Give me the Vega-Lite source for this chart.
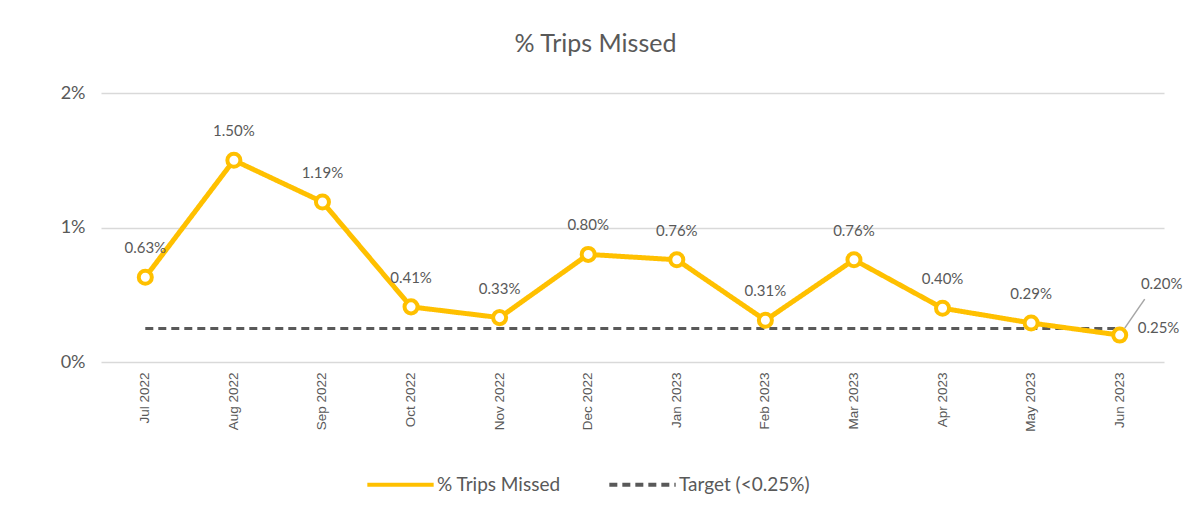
{
  "$schema": "https://vega.github.io/schema/vega-lite/v6.json",
  "width": 1063,
  "height": 269,
  "autosize": {"type": "none"},
  "padding": {"left": 101, "top": 93, "right": 26, "bottom": 156},
  "background": "white",
  "title": {"text": "% Trips Missed", "fontSize": 25, "font": "Lato", "fontWeight": "normal", "color": "#595959", "anchor": "middle", "dx": -37, "offset": 27},
  "config": {"view": {"stroke": null}},
  "data": {"values": [
    {"month": "Jul 2022", "missed": 0.0063, "target": 0.0025},
    {"month": "Aug 2022", "missed": 0.0150, "target": 0.0025},
    {"month": "Sep 2022", "missed": 0.0119, "target": 0.0025},
    {"month": "Oct 2022", "missed": 0.0041, "target": 0.0025},
    {"month": "Nov 2022", "missed": 0.0033, "target": 0.0025},
    {"month": "Dec 2022", "missed": 0.0080, "target": 0.0025},
    {"month": "Jan 2023", "missed": 0.0076, "target": 0.0025},
    {"month": "Feb 2023", "missed": 0.0031, "target": 0.0025},
    {"month": "Mar 2023", "missed": 0.0076, "target": 0.0025},
    {"month": "Apr 2023", "missed": 0.0040, "target": 0.0025},
    {"month": "May 2023", "missed": 0.0029, "target": 0.0025},
    {"month": "Jun 2023", "missed": 0.0020, "target": 0.0025}
  ]},
  "encoding": {
    "x": {"field": "month", "type": "ordinal", "sort": null, "title": null,
      "scale": {"type": "band", "paddingInner": 0, "paddingOuter": 0},
      "axis": {"labelAngle": -90, "labelFont": "Liberation Sans", "labelFontSize": 13.5, "labelColor": "#595959", "ticks": false, "domain": false, "labelPadding": 10, "grid": false}}
  },
  "layer": [
    {
      "mark": {"type": "line", "strokeWidth": 3},
      "encoding": {
        "y": {"field": "target", "type": "quantitative", "title": null,
          "scale": {"domain": [0, 0.02], "nice": false},
          "axis": {"values": [0, 0.01, 0.02], "format": ".0%", "labelFont": "Lato", "labelFontSize": 18, "labelColor": "#595959", "ticks": false, "domain": false, "labelPadding": 16, "gridColor": "#D9D9D9", "gridWidth": 1.5}},
        "color": {"datum": "Target (<0.25%)", "type": "nominal",
          "scale": {"domain": ["% Trips Missed", "Target (<0.25%)"], "range": ["#FFC000", "#595959"]},
          "legend": {"title": null, "orient": "none", "legendX": 264, "legendY": 356, "direction": "horizontal", "symbolType": "stroke", "symbolSize": 4400, "symbolStrokeWidth": 4, "labelFont": "Lato", "labelFontSize": 19, "labelColor": "#595959", "columnPadding": 40, "labelOffset": 1}},
        "strokeDash": {"datum": "Target (<0.25%)", "type": "nominal",
          "scale": {"domain": ["% Trips Missed", "Target (<0.25%)"], "range": [[1, 0], [8, 5]]},
          "legend": {"title": null, "orient": "none", "legendX": 264, "legendY": 356, "direction": "horizontal", "symbolType": "stroke", "symbolSize": 4400, "symbolStrokeWidth": 4, "labelFont": "Lato", "labelFontSize": 19, "labelColor": "#595959", "columnPadding": 40, "labelOffset": 1}}
      }
    },
    {
      "mark": {"type": "line", "strokeWidth": 5},
      "encoding": {
        "y": {"field": "missed", "type": "quantitative"},
        "color": {"datum": "% Trips Missed", "type": "nominal"},
        "strokeDash": {"datum": "% Trips Missed", "type": "nominal"}
      }
    },
    {
      "mark": {"type": "point", "filled": true, "fill": "white", "stroke": "#FFC000", "strokeWidth": 4, "size": 170, "opacity": 1},
      "encoding": {
        "y": {"field": "missed", "type": "quantitative"}
      }
    },
    {
      "transform": [{"filter": "datum.month !== 'Jun 2023'"}],
      "mark": {"type": "text", "dy": -29, "font": "Lato", "fontSize": 15, "color": "#595959"},
      "encoding": {
        "y": {"field": "missed", "type": "quantitative"},
        "text": {"field": "missed", "type": "quantitative", "format": ".2%"}
      }
    },
    {
      "transform": [{"filter": "datum.month === 'Jun 2023'"}],
      "mark": {"type": "text", "dx": 42, "dy": -51, "font": "Lato", "fontSize": 15, "color": "#595959"},
      "encoding": {
        "y": {"field": "missed", "type": "quantitative"},
        "text": {"field": "missed", "type": "quantitative", "format": ".2%"}
      }
    },
    {
      "transform": [{"filter": "datum.month === 'Jun 2023'"}],
      "mark": {"type": "rule", "color": "#A6A6A6", "strokeWidth": 1.5, "xOffset": 5, "yOffset": -7, "x2Offset": 25, "y2Offset": -36},
      "encoding": {
        "y": {"field": "missed", "type": "quantitative"},
        "y2": {"field": "missed"},
        "x2": {"field": "month"}
      }
    },
    {
      "transform": [{"filter": "datum.month === 'Jun 2023'"}],
      "mark": {"type": "text", "align": "left", "dx": 18, "font": "Lato", "fontSize": 15, "color": "#595959"},
      "encoding": {
        "y": {"field": "target", "type": "quantitative"},
        "text": {"field": "target", "type": "quantitative", "format": ".2%"}
      }
    }
  ]
}
